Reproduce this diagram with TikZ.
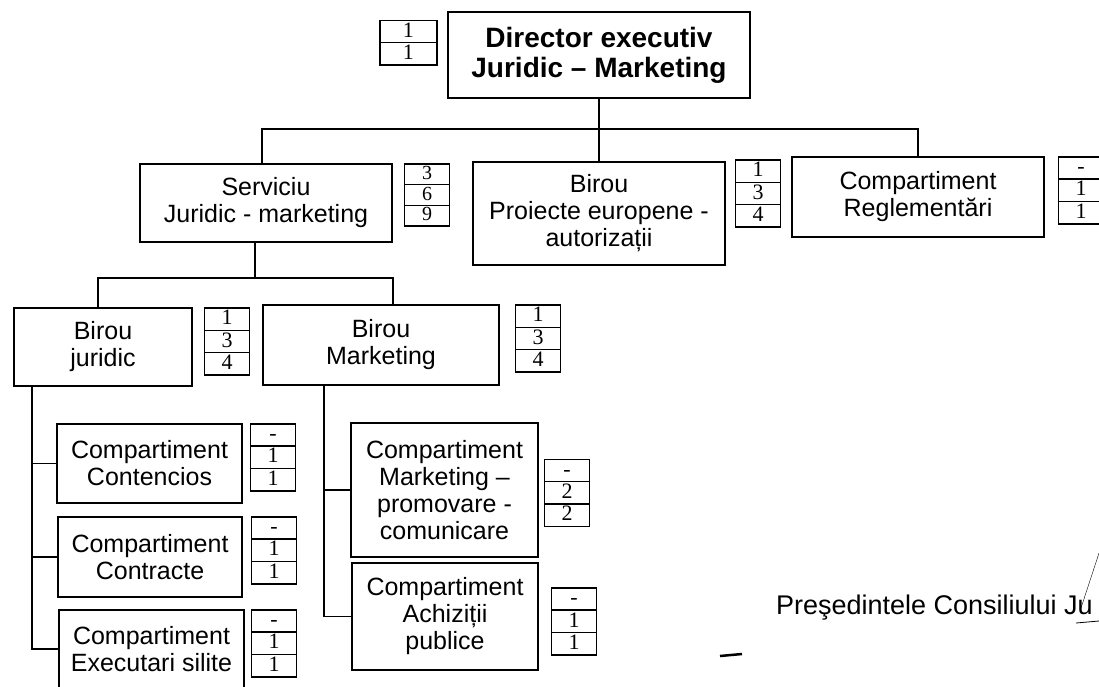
\documentclass[tikz,border=0pt]{standalone}
\usepackage{fontspec}
\setmainfont{Liberation Sans}
\newfontfamily\tallyfont{Liberation Serif}
\newcommand{\tcell}{\rule[-.15em]{0pt}{.8em}}
\usetikzlibrary{positioning,shapes.multipart}

\begin{document}
\begin{tikzpicture}[x=1pt, y=-1pt, line width=1.5pt,
        unit/.style={draw, align=center, inner sep=2pt, font=\fontsize{25}{27}\selectfont},
        tally/.style={draw, rectangle split, rectangle split parts=3, minimum width=45pt, inner xsep=2pt, inner ysep=1.5pt, font=\tallyfont\fontsize{22}{24}\selectfont},
        link/.style={line width=1.6pt}]
        \useasboundingbox (0,0) rectangle (1099,686);

        \node[unit, line width=2.8pt, minimum width=302pt, minimum height=86pt, font=\bfseries\fontsize{28}{30}\selectfont] (dir) at (599,55) {Director executiv\\Juridic – Marketing};
        \node[unit, minimum width=252pt, minimum height=78pt] (serv) at (266,203) {Serviciu\\Juridic - marketing};
        \node[unit, minimum width=252pt, minimum height=103pt] (proi) at (599,213.5) {Birou\\Proiecte europene -\\autorizații};
        \node[unit, minimum width=252pt, minimum height=80pt] (regl) at (918,197) {Compartiment\\Reglementări};
        \node[unit, minimum width=178pt, minimum height=78pt] (jur) at (103,347) {Birou\\juridic};
        \node[unit, minimum width=236pt, minimum height=80pt] (mkt) at (381,345) {Birou\\Marketing};
        \node[unit, minimum width=185pt, minimum height=79pt] (cont) at (149.5,463.5) {Compartiment\\Contencios};
        \node[unit, minimum width=184pt, minimum height=80pt] (ctr) at (150,557) {Compartiment\\Contracte};
        \node[unit, minimum width=185pt, minimum height=78pt] (exec) at (151.5,649) {Compartiment\\Executari silite};
        \node[unit, minimum width=187pt, minimum height=134pt] (mpc) at (444.5,490) {Compartiment\\Marketing –\\promovare -\\comunicare};
        \node[unit, minimum width=186pt, minimum height=107pt] (achz) at (445,616.5) {Compartiment\\Achiziții\\publice};

        \node[tally, rectangle split parts=2, minimum width=57pt, left=9pt of dir.north west, anchor=north east, yshift=-9pt] (dirc) {\tcell 1\nodepart{two}\tcell 1};
        \node[tally, font=\tallyfont\fontsize{20}{22}\selectfont, right=11pt of serv.north east, anchor=north west] (servc) {\tcell 3\nodepart{two}\tcell 6\nodepart{three}\tcell 9};
        \node[tally, right=9pt of proi.north east, anchor=north west, yshift=2pt] (proic) {\tcell 1\nodepart{two}\tcell 3\nodepart{three}\tcell 4};
        \node[tally, right=13pt of regl.north east, anchor=north west] (reglc) {\tcell -\nodepart{two}\tcell 1\nodepart{three}\tcell 1};
        \node[tally, right=11pt of jur.north east, anchor=north west] (jurc) {\tcell 1\nodepart{two}\tcell 3\nodepart{three}\tcell 4};
        \node[tally, right=15pt of mkt.north east, anchor=north west] (mktc) {\tcell 1\nodepart{two}\tcell 3\nodepart{three}\tcell 4};
        \node[tally, right=7pt of cont.north east, anchor=north west] (contc) {\tcell -\nodepart{two}\tcell 1\nodepart{three}\tcell 1};
        \node[tally, right=8pt of ctr.north east, anchor=north west] (ctrc) {\tcell -\nodepart{two}\tcell 1\nodepart{three}\tcell 1};
        \node[tally, right=6pt of exec.north east, anchor=north west] (execc) {\tcell -\nodepart{two}\tcell 1\nodepart{three}\tcell 1};
        \node[tally, right=5pt of mpc, yshift=-3pt] (mpcc) {\tcell -\nodepart{two}\tcell 2\nodepart{three}\tcell 2};
        \node[tally, right=12pt of achz, yshift=-5pt] (achzc) {\tcell -\nodepart{two}\tcell 1\nodepart{three}\tcell 1};

        \node[anchor=west, font=\fontsize{27}{30}\selectfont] (sign) at (772,608) {Preşedintele Consiliului Ju};

        \draw[link] (dir) -- (proi);
        \draw[link] ([xshift=-4pt]serv.north) -- ++(0,-34) -| (regl.north);
        \coordinate (bus2) at ([xshift=-11pt,yshift=-35pt]serv.south);
        \draw[link] ([xshift=-11pt]serv.south) -- (bus2);
        \draw[link] ([xshift=-5pt]jur.north) |- (bus2) -| ([xshift=12pt]mkt.north);
        \coordinate (jspine) at ([xshift=-71pt]jur.south);
        \draw[link] (jspine) |- (exec.west);
        \draw[link] (jspine |- cont.west) -- (cont.west);
        \draw[link] (jspine |- ctr.west) -- (ctr.west);
        \coordinate (mspine) at ([xshift=-57pt]mkt.south);
        \draw[link] (mspine) |- (achz.west);
        \draw[link] (mspine |- mpc.west) -- (mpc.west);

        \draw[line width=2.5pt] (720,656) -- (742,654);
        \draw[line width=0.4pt] (1099,553) -- (1081,608);
        \draw[line width=0.8pt] (1076,623) -- (1099,621);
\end{tikzpicture}
\end{document}
